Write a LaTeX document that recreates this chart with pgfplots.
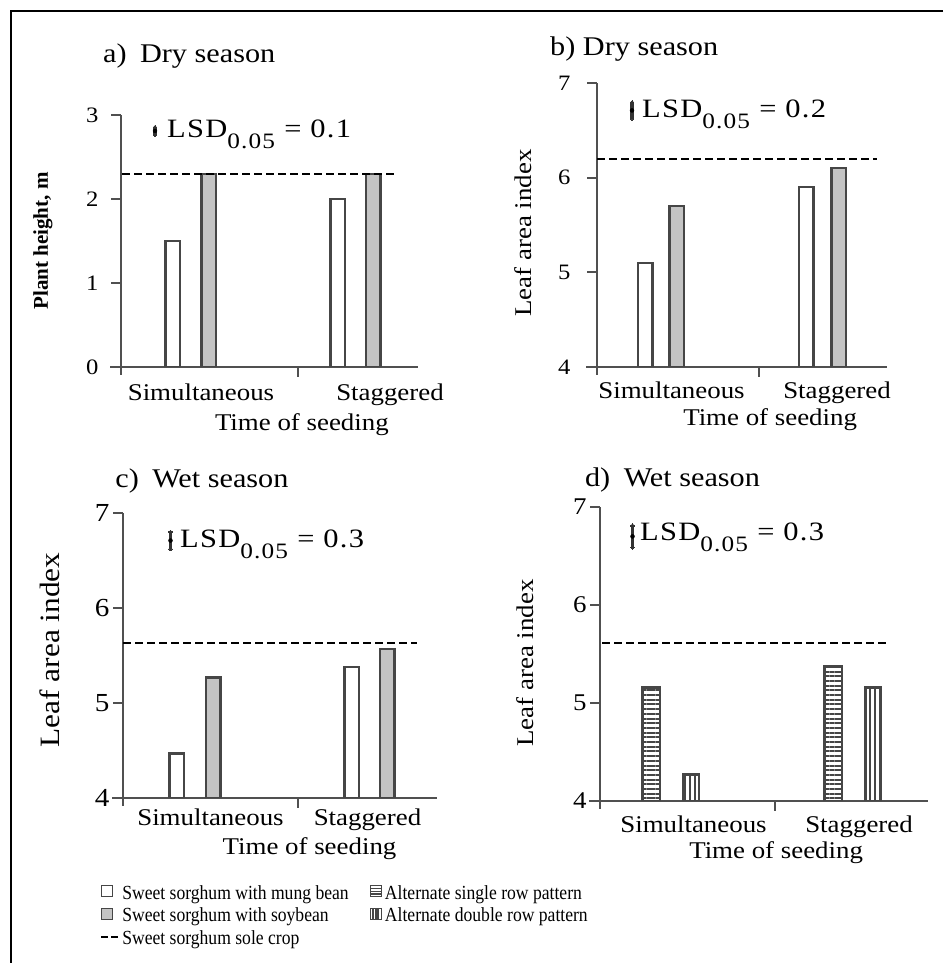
\documentclass[border=0pt]{standalone}
\usepackage{fontspec}
\setmainfont{Liberation Serif}
\newfontfamily\wide{Liberation Serif}[FakeStretch=1.12]
\newfontfamily\narrow{Liberation Serif}[FakeStretch=0.88]
\newfontfamily\lsdfam{Liberation Serif}[FakeStretch=1.15,LetterSpace=5]
\usepackage{pgfplots}
\pgfplotsset{compat=1.18}
\usetikzlibrary{patterns.meta}

\definecolor{axgray}{RGB}{80,80,80}
\definecolor{bargray}{RGB}{70,70,70}
\definecolor{soyfill}{RGB}{196,196,196}

\newcommand\axf{\wide\fontsize{24}{28}\selectfont}
\newcommand\titf{\wide\fontsize{27}{30}\selectfont}
\newcommand\legf{\narrow\fontsize{20}{23}\selectfont}
\newcommand\lsdf{\lsdfam\fontsize{26.5}{28}\selectfont}
\newcommand\plantf{\fontsize{21}{24}\selectfont\bfseries}
\newcommand\lsdtext[1]{LSD\raisebox{-0.42em}{\fontsize{22}{22}\selectfont 0.05}\hspace{0.35em}= #1}

\pgfplotsset{
 panel/.style={
  scale only axis, xmin=0,
  axis x line*=bottom, axis y line*=left,
  axis line style={draw=axgray, line width=2.2pt, -},
  x axis line style={shorten <=-11pt},
  y axis line style={shorten <=-8pt},
  tick align=outside,
  major tick length=10pt,
  tick style={draw=axgray, line width=2.2pt},
  /pgf/number format/assume math mode=true,
  xticklabels={},
  extra x tick labels={Simultaneous,Staggered},
  extra x tick style={major tick length=0pt, tick style={draw=none}},
  xticklabel style={font=\axf, anchor=north, inner sep=0pt},
  xlabel={Time of seeding},
  xlabel style={font=\axf, anchor=center, inner sep=0pt},
  ylabel style={anchor=center, inner sep=0pt},
  title style={font=\titf, anchor=west, inner sep=0pt},
  clip=true,
 },
 mung/.style={ybar, bar width=14.5pt, draw=bargray, line width=2.5pt, fill=white, forget plot},
 soy/.style={ybar, bar width=14.5pt, draw=bargray, line width=2.5pt, fill=soyfill, forget plot},
 hrow/.style={ybar, bar width=17.5pt, draw=bargray, line width=2.5pt, pattern={Lines[angle=0, distance=4.7pt, line width=2pt]}, pattern color=bargray, forget plot},
 vrow/.style={ybar, bar width=15.5pt, draw=bargray, line width=2.5pt, pattern={Lines[angle=90, distance=5pt, line width=1.8pt]}, pattern color=bargray, forget plot},
 sole/.style={black, line width=2pt, dash pattern=on 8pt off 4pt, forget plot, mark=none},
 lsd/.style={only marks, mark=none, forget plot, error bars/.cd, y dir=both, y explicit,
   error bar style={line width=3.5pt, color=black!80},
   error mark=*, error mark options={mark size=1.9pt, fill=black!80, draw=black!80, line width=0pt}},
}

\begin{document}
\begin{tikzpicture}
\useasboundingbox (0pt,0pt) rectangle (943pt,963pt);
\draw[line width=2.2pt] (943pt,952pt) -- (11pt,952pt) -- (11pt,0pt);

% a) Dry season, plant height
\begin{axis}[panel, at={(121pt,596pt)}, anchor=south west, width=297pt, height=252pt,
  xmax=297, ymin=0, ymax=3, ytick={0,1,2,3},
  xtick={177}, extra x ticks={80,269},
  yticklabel style={font=\wide\fontsize{22}{24}\selectfont, xshift=-9pt},
  xticklabel style={yshift=-17pt},
  xlabel style={at={(axis description cs:0.609,-0.23)}},
  ylabel={Plant height, m},
  ylabel style={font=\plantf, at={(axis description cs:-0.263,0.5)}},
  title={a)\enspace Dry season},
  title style={at={(axis description cs:-0.061,1.210)}}]
\addplot[mung] coordinates {(51.5,1.5) (216.5,2.0)};
\addplot[soy] coordinates {(87.5,2.3) (252,2.3)};
\addplot[sole] coordinates {(1,2.3) (274,2.3)};
\addplot[lsd] coordinates {(34,2.81) +- (0,0.045)};
\node[anchor=base west, font=\lsdf, inner sep=0pt] at (axis cs:46,2.73) {\lsdtext{0.1}};
\end{axis}

% b) Dry season, LAI
\begin{axis}[panel, at={(597pt,596pt)}, anchor=south west, width=290pt, height=284pt,
  xmax=290, ymin=4, ymax=7, ytick={4,5,6,7},
  xtick={162}, extra x ticks={74.5,240},
  yticklabel style={font=\wide\fontsize{22}{24}\selectfont, xshift=-13pt},
  xticklabel style={yshift=-15pt},
  xlabel style={at={(axis description cs:0.597,-0.187)}},
  ylabel={Leaf area index},
  ylabel style={font=\wide\fontsize{24}{26}\selectfont, at={(axis description cs:-0.255,0.472)}},
  title={b) Dry season},
  title style={at={(axis description cs:-0.162,1.099)}}]
\addplot[mung] coordinates {(48,5.1) (209,5.9)};
\addplot[soy] coordinates {(79.5,5.7) (241.5,6.1)};
\addplot[sole] coordinates {(0,6.2) (280,6.2)};
\addplot[lsd] coordinates {(35,6.71) +- (0,0.085)};
\node[anchor=base west, font=\lsdf, inner sep=0pt] at (axis cs:45,6.64) {\lsdtext{0.2}};
\end{axis}

% c) Wet season, LAI
\begin{axis}[panel, at={(123pt,165pt)}, anchor=south west, width=314pt, height=285pt,
  xmax=314, ymin=4, ymax=7, ytick={4,5,6,7},
  xtick={175}, extra x ticks={87.5,244.5},
  yticklabel style={font=\wide\fontsize{26}{28}\selectfont},
  xticklabel style={yshift=-11pt},
  xlabel style={at={(axis description cs:0.594,-0.176)}},
  ylabel={Leaf area index},
  ylabel style={font=\wide\fontsize{28}{30}\selectfont, at={(axis description cs:-0.232,0.519)}},
  title={c)\enspace Wet season},
  title style={at={(axis description cs:-0.025,1.091)}},
  legend columns=2, legend cell align=left,
  legend style={at={(axis description cs:-0.073,-0.298)}, anchor=north west, draw=none, fill=none,
    font=\legf, inner sep=0pt, row sep=3.5pt, nodes={inner sep=2pt},
    /tikz/every odd column/.append style={column sep=1pt},
    /tikz/every even column/.append style={column sep=19pt}}]
\addplot[mung] coordinates {(53.5,4.47) (228.5,5.38)};
\addplot[soy] coordinates {(90,5.27) (264,5.57)};
\addplot[sole] coordinates {(0,5.63) (294,5.63)};
\addplot[lsd] coordinates {(47.5,6.71) +- (0,0.09)};
\node[anchor=base west, font=\lsdf, inner sep=0pt] at (axis cs:57,6.64) {\lsdtext{0.3}};
\addlegendimage{legend image code/.code={\draw[draw=bargray, line width=1.2pt, fill=white] (0pt,-4pt) rectangle (11pt,7pt);}}
\addlegendentry{Sweet sorghum with mung bean}
\addlegendimage{legend image code/.code={\draw[draw=bargray, line width=1.2pt, fill=white] (0pt,-4pt) rectangle (11pt,7pt);
  \draw[bargray, line width=1.2pt] (0pt,-1.25pt) -- (11pt,-1.25pt) (0pt,1.5pt) -- (11pt,1.5pt) (0pt,4.25pt) -- (11pt,4.25pt);}}
\addlegendentry{Alternate single row pattern}
\addlegendimage{legend image code/.code={\draw[draw=bargray, line width=1.2pt, fill=soyfill] (0pt,-4pt) rectangle (11pt,7pt);}}
\addlegendentry{Sweet sorghum with soybean}
\addlegendimage{legend image code/.code={\draw[draw=bargray, line width=1.2pt, fill=white] (0pt,-4pt) rectangle (11pt,7pt);
  \draw[bargray, line width=1.8pt] (3pt,-4pt) -- (3pt,7pt) (5.5pt,-4pt) -- (5.5pt,7pt) (8pt,-4pt) -- (8pt,7pt);}}
\addlegendentry{Alternate double row pattern}
\addlegendimage{legend image code/.code={\draw[black, line width=2pt] (0pt,1.5pt) -- (7pt,1.5pt) (10pt,1.5pt) -- (17pt,1.5pt);}}
\addlegendentry{Sweet sorghum sole crop}
\end{axis}

% d) Wet season, row pattern
\begin{axis}[panel, at={(600pt,162pt)}, anchor=south west, width=328pt, height=294pt,
  xmax=328, ymin=4, ymax=7, ytick={4,5,6,7},
  xtick={175}, extra x ticks={93.5,259},
  yticklabel style={font=\wide\fontsize{24}{26}\selectfont},
  xticklabel style={yshift=-15pt},
  xlabel style={at={(axis description cs:0.537,-0.177)}},
  ylabel={Leaf area index},
  ylabel style={font=\wide\fontsize{24}{26}\selectfont, at={(axis description cs:-0.229,0.469)}},
  title={d)\enspace Wet season},
  title style={at={(axis description cs:-0.046,1.071)}}]
\addplot[hrow] coordinates {(51,5.16) (233,5.37)};
\addplot[vrow] coordinates {(91,4.27) (273,5.16)};
\addplot[sole] coordinates {(2,5.61) (288,5.61)};
\addplot[lsd] coordinates {(32.5,6.70) +- (0,0.11)};
\node[anchor=base west, font=\lsdf, inner sep=0pt] at (axis cs:40,6.66) {\lsdtext{0.3}};
\end{axis}
\end{tikzpicture}
\end{document}
